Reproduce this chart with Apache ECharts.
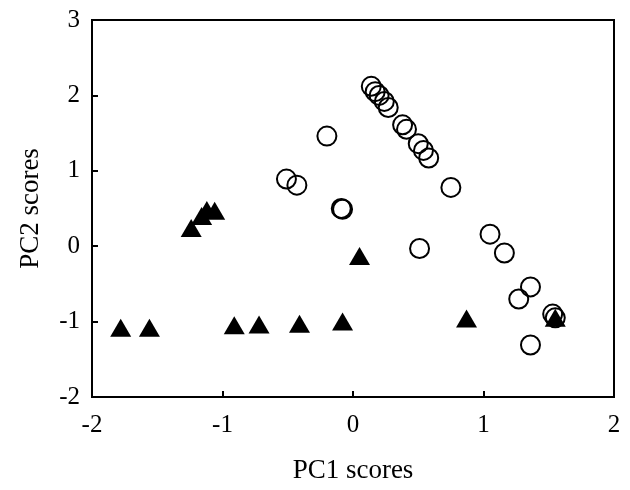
<!DOCTYPE html>
<html>
<head>
<meta charset="utf-8">
<script src="https://cdn.jsdelivr.net/npm/echarts@6/dist/echarts.min.js"></script>
<style>html,body{margin:0;padding:0;background:#fff}#c{width:630px;height:490px}</style>
</head>
<body>
<div id="c"></div>
<script>
var circlesX = [0.14, 0.17, 0.20, 0.24, 0.27, 0.38, 0.41, 0.50, 0.54, 0.58, -0.20, -0.51, -0.43, -0.09, -0.08, 0.75, 0.51, 1.05, 1.16, 1.36, 1.27, 1.53, 1.55, 1.36];
var circlesY = [2.12, 2.05, 2.00, 1.92, 1.84, 1.61, 1.55, 1.36, 1.27, 1.17, 1.46, 0.89, 0.81, 0.50, 0.49, 0.78, -0.03, 0.16, -0.09, -0.54, -0.70, -0.90, -0.95, -1.31];
var trianglesX = [-1.78, -1.56, -0.91, -0.72, -0.41, -0.08, 0.05, 0.87, -1.24, -1.16, -1.12, -1.06, 1.55];
var trianglesY = [-1.08, -1.08, -1.05, -1.04, -1.03, -1.00, -0.13, -0.96, 0.24, 0.40, 0.48, 0.47, -0.95];
var xTicks = [-2, 2, 1];
var yTicks = [-2, 3, 1];

function pairs(xs, ys) { return xs.map(function (x, i) { return [x, ys[i]]; }); }

var font = 'Liberation Serif';
var chart = echarts.init(document.getElementById('c'), null, {renderer: 'canvas'});
chart.setOption({
  animation: false,
  backgroundColor: '#fff',
  grid: {left: 92, right: 16, top: 20, bottom: 93, show: true, borderColor: '#000', borderWidth: 2, backgroundColor: 'transparent'},
  xAxis: {
    type: 'value', min: xTicks[0], max: xTicks[1], interval: xTicks[2],
    name: 'PC1 scores', nameLocation: 'middle', nameGap: 60,
    nameTextStyle: {fontFamily: font, fontSize: 27, color: '#000'},
    axisLine: {show: true, onZero: false, lineStyle: {color: '#000', width: 2}},
    axisTick: {show: true, inside: true, length: 6, lineStyle: {color: '#000', width: 2}},
    axisLabel: {fontFamily: font, fontSize: 25, color: '#000', margin: 16},
    splitLine: {show: false}
  },
  yAxis: {
    type: 'value', min: yTicks[0], max: yTicks[1], interval: yTicks[2],
    name: 'PC2 scores', nameLocation: 'middle', nameGap: 48, nameRotate: 90,
    nameTextStyle: {fontFamily: font, fontSize: 27, color: '#000'},
    axisLine: {show: true, onZero: false, lineStyle: {color: '#000', width: 2}},
    axisTick: {show: true, inside: true, length: 6, lineStyle: {color: '#000', width: 2}},
    axisLabel: {fontFamily: font, fontSize: 25, color: '#000', margin: 12},
    splitLine: {show: false}
  },
  series: [
    {
      type: 'scatter', data: pairs(circlesX, circlesY), symbol: 'circle', symbolSize: 19,
      itemStyle: {color: 'transparent', borderColor: '#000', borderWidth: 2, opacity: 1}
    },
    {
      type: 'scatter', data: pairs(trianglesX, trianglesY), symbol: 'triangle', symbolSize: [21, 18],
      itemStyle: {color: '#000', opacity: 1}
    }
  ]
});
</script>
</body>
</html>
